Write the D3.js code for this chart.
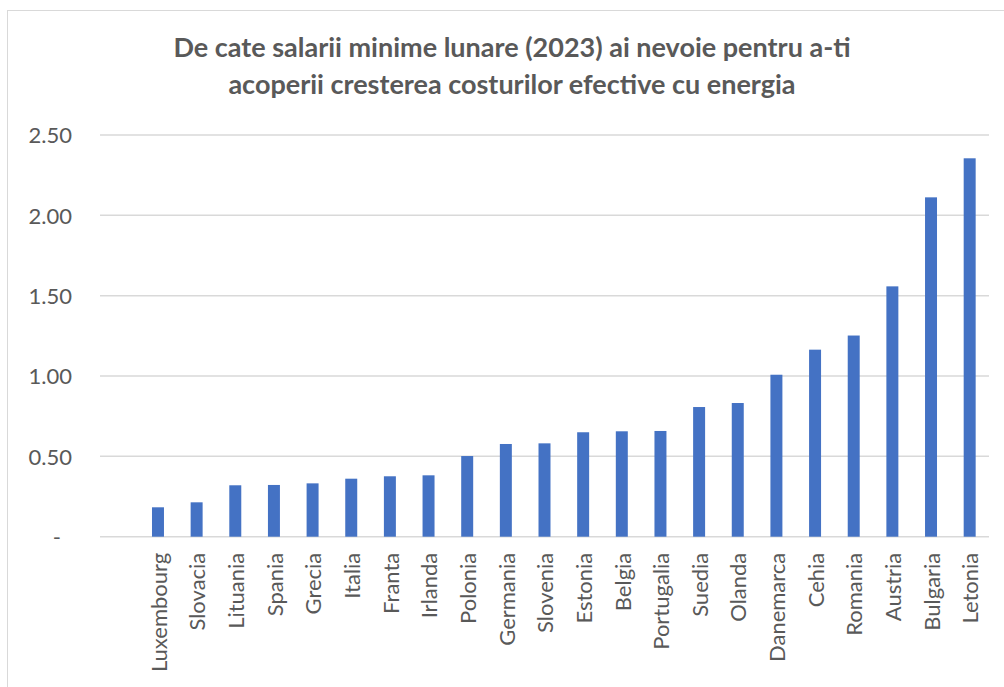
<!DOCTYPE html>
<html>
<head>
<meta charset="utf-8">
<script src="https://cdn.jsdelivr.net/npm/d3@7"></script>
<style>
  body { margin: 0; background: #fff; }
  svg text { font-family: Lato, "Open Sans", sans-serif; fill: #595959; }
</style>
</head>
<body>
<div id="chart"></div>
<script>
// date
const tari = ["Luxembourg", "Slovacia", "Lituania", "Spania", "Grecia", "Italia", "Franta", "Irlanda",
    "Polonia", "Germania", "Slovenia", "Estonia", "Belgia", "Portugalia", "Suedia", "Olanda",
    "Danemarca", "Cehia", "Romania", "Austria", "Bulgaria", "Letonia"];
const salarii = [0.183, 0.214, 0.32, 0.322, 0.332, 0.361, 0.376, 0.382,
    0.502, 0.577, 0.581, 0.650, 0.656, 0.658, 0.807, 0.832,
    1.008, 1.164, 1.252, 1.558, 2.112, 2.355];
const yTicks = [0, 0.5, 1, 1.5, 2, 2.5];
const titlu = ["De cate salarii minime lunare (2023) ai nevoie pentru a-ti",
    "acoperii cresterea costurilor efective cu energia"];

const W = 1004, H = 687;
const plotLeft = 100, plotRight = 989, plotTop = 135, plotBottom = 536.7;

const svg = d3.select("#chart")
    .append("svg")
    .attr("width", W)
    .attr("height", H);

// chenar
svg.append("rect")
    .attr("x", 7.5).attr("y", 10.5)
    .attr("width", 1010).attr("height", 700)
    .attr("fill", "none")
    .attr("stroke", "#d9d9d9")
    .attr("stroke-width", 1);

// titlu
svg.append("g")
    .selectAll("text")
    .data(titlu)
    .enter()
    .append("text")
    .attr("x", 512)
    .attr("y", (d, i) => 57 + i * 37)
    .attr("text-anchor", "middle")
    .style("font-size", "27px")
    .style("font-weight", "bold")
    .text(d => d);

const y = d3.scaleLinear()
    .domain([0, 2.5])
    .range([plotBottom, plotTop]);

// prima banda e goala in original
const step = (plotRight - plotLeft) / (tari.length + 1);
const x = d3.scaleBand()
    .domain(tari)
    .range([plotLeft + step, plotRight])
    .paddingInner(0.69)
    .paddingOuter(0.345);

// grid
svg.append("g")
    .selectAll("line")
    .data(yTicks)
    .enter()
    .append("line")
    .attr("x1", plotLeft).attr("x2", plotRight)
    .attr("y1", d => y(d)).attr("y2", d => y(d))
    .attr("stroke", "#d9d9d9")
    .attr("stroke-width", 1.5);

// axa y
const yAxis = svg.append("g")
    .attr("transform", "translate(72,0)")
    .call(d3.axisLeft(y).tickValues(yTicks).tickSize(0).tickPadding(0)
        .tickFormat(d => d === 0 ? "-" : d3.format(".2f")(d)));
yAxis.select(".domain").remove();
yAxis.selectAll("text")
    .style("font-size", "22px")
    .attr("fill", "#595959")
    .attr("dy", "0.35em")
    .attr("x", d => d === 0 ? -11 : 0);

// bare
svg.append("g")
    .selectAll("rect")
    .data(tari.map((t, i) => ({ tara: t, val: salarii[i] })))
    .enter()
    .append("rect")
    .attr("x", d => x(d.tara))
    .attr("y", d => y(d.val))
    .attr("width", x.bandwidth())
    .attr("height", d => y(0) - y(d.val))
    .attr("fill", "#4472c4");

// axa x
const xAxis = svg.append("g")
    .attr("transform", "translate(0," + plotBottom + ")")
    .call(d3.axisBottom(x).tickSize(0));
xAxis.select(".domain").remove();
xAxis.selectAll("text")
    .style("font-size", "22px")
    .attr("fill", "#595959")
    .attr("text-anchor", "end")
    .attr("dy", "0.35em")
    .attr("transform", "translate(1,16) rotate(-90)")
    .attr("x", 0)
    .attr("y", 0);
</script>
</body>
</html>
